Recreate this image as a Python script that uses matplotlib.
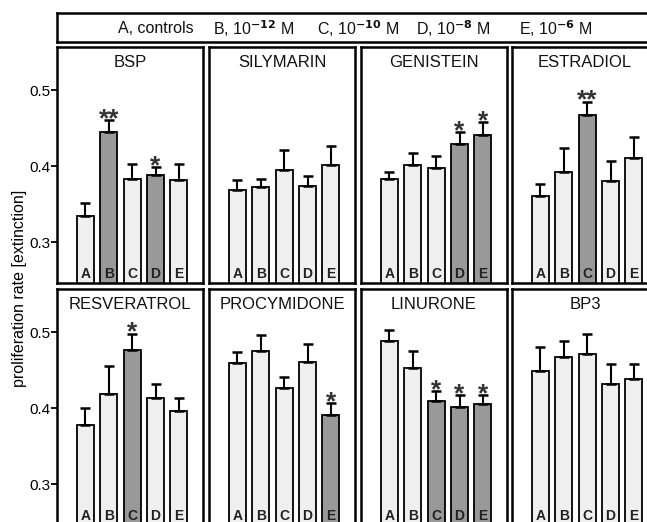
import matplotlib
matplotlib.use("Agg")
import matplotlib.pyplot as plt

plt.rcParams['font.family'] = ['Liberation Sans', 'DejaVu Sans']
plt.rcParams['mathtext.fontset'] = 'custom'
plt.rcParams['mathtext.rm'] = 'Liberation Sans'

groups = ["A", "B", "C", "D", "E"]
panels = ["BSP", "SILYMARIN", "GENISTEIN", "ESTRADIOL",
          "RESVERATROL", "PROCYMIDONE", "LINURONE", "BP3"]

bsp = [0.334, 0.445, 0.383, 0.388, 0.382]
bsp_err = [0.017, 0.016, 0.020, 0.011, 0.021]
bsp_sig = ["", "**", "", "*", ""]

silymarin = [0.369, 0.373, 0.395, 0.374, 0.402]
silymarin_err = [0.013, 0.010, 0.026, 0.013, 0.024]
silymarin_sig = ["", "", "", "", ""]

genistein = [0.383, 0.401, 0.397, 0.429, 0.441]
genistein_err = [0.009, 0.016, 0.016, 0.016, 0.017]
genistein_sig = ["", "", "", "*", "*"]

estradiol = [0.361, 0.392, 0.468, 0.380, 0.411]
estradiol_err = [0.015, 0.032, 0.017, 0.027, 0.028]
estradiol_sig = ["", "", "**", "", ""]

resveratrol = [0.378, 0.418, 0.476, 0.413, 0.396]
resveratrol_err = [0.022, 0.037, 0.022, 0.019, 0.018]
resveratrol_sig = ["", "", "*", "", ""]

procymidone = [0.459, 0.475, 0.426, 0.461, 0.391]
procymidone_err = [0.015, 0.021, 0.015, 0.023, 0.016]
procymidone_sig = ["", "", "", "", "*"]

linurone = [0.489, 0.453, 0.409, 0.401, 0.406]
linurone_err = [0.014, 0.022, 0.013, 0.016, 0.011]
linurone_sig = ["", "", "*", "*", "*"]

bp3 = [0.449, 0.467, 0.472, 0.432, 0.439]
bp3_err = [0.031, 0.022, 0.026, 0.026, 0.019]
bp3_sig = ["", "", "", "", ""]

values = [bsp, silymarin, genistein, estradiol, resveratrol, procymidone, linurone, bp3]
errors = [bsp_err, silymarin_err, genistein_err, estradiol_err,
          resveratrol_err, procymidone_err, linurone_err, bp3_err]
sigs = [bsp_sig, silymarin_sig, genistein_sig, estradiol_sig,
        resveratrol_sig, procymidone_sig, linurone_sig, bp3_sig]

legend_items = ["A, controls", r"B, 10$^{\mathbf{-12}}$ M", r"C, 10$^{\mathbf{-10}}$ M",
                r"D, 10$^{\mathbf{-8}}$ M", r"E, 10$^{\mathbf{-6}}$ M"]
yticks = [0.3, 0.4, 0.5]
ylabel = "proliferation rate [extinction]"

W, H = 647, 522
fig = plt.figure(figsize=(W / 100, H / 100), dpi=100)

light = "#efefef"
dark = "#999999"
ylim = (0.246, 0.557)
px = (ylim[1] - ylim[0]) / 236.0

def px_axes(x0, y0, w, h):
    return fig.add_axes([x0 / W, 1 - (y0 + h) / H, w / W, h / H])

# header box
hax = px_axes(57, 13, 640, 29)
hax.set_xticks([]); hax.set_yticks([])
for s in hax.spines.values():
    s.set_linewidth(1.8)
hax.set_xlim(0, 640); hax.set_ylim(0, 1)
centers = [156, 254, 358, 453, 556]
for c, t in zip(centers, legend_items):
    hax.text(c - 57, 0.45, t, ha="center", va="center", fontsize=11.5,
             color="#111111")

col_x = [57, 209, 361, 512]
row_y = [47, 289]
pw, ph = 146, 236
x = list(range(5))

for i, name in enumerate(panels):
    r, c = divmod(i, 4)
    ax = px_axes(col_x[c], row_y[r], pw, ph)
    sig = sigs[i]
    colors = [dark if s else light for s in sig]
    ax.bar(x, values[i], width=0.73, color=colors, edgecolor="black",
           linewidth=1.3, zorder=2)
    ax.errorbar(x, values[i], yerr=[[0] * 5, errors[i]], fmt="none",
                ecolor="black", elinewidth=1.5, capsize=3.8, capthick=1.8, zorder=3)
    for xi, v, e, s in zip(x, values[i], errors[i], sig):
        if s:
            ax.text(xi, v + e - 6 * px, s, ha="center", va="baseline",
                    fontsize=19, fontweight="bold", color="#333333", zorder=4)
    for xi, g in zip(x, groups):
        ax.text(xi, 0.2575, g, ha="center", va="center", fontsize=10,
                fontweight="bold", color="#222222", zorder=4)
    ax.set_xlim(-1.22, 5.03)
    ax.set_ylim(*ylim)
    ax.set_xticks([])
    ax.text(0.5, 0.965, name, transform=ax.transAxes, ha="center", va="top",
            fontsize=12, color="#111111")
    for s in ax.spines.values():
        s.set_linewidth(1.8)
    if c == 0:
        ax.set_yticks(yticks)
        ax.set_yticklabels([f"{t:.1f}" for t in yticks], fontsize=11)
        ax.tick_params(axis="y", direction="out", length=4, width=1.3, pad=1)
    else:
        ax.set_yticks([])

fig.text(20 / W, 1 - 288 / H, ylabel, rotation=90, ha="center", va="center",
         fontsize=11.5)

fig.savefig("out.png", dpi=100)
